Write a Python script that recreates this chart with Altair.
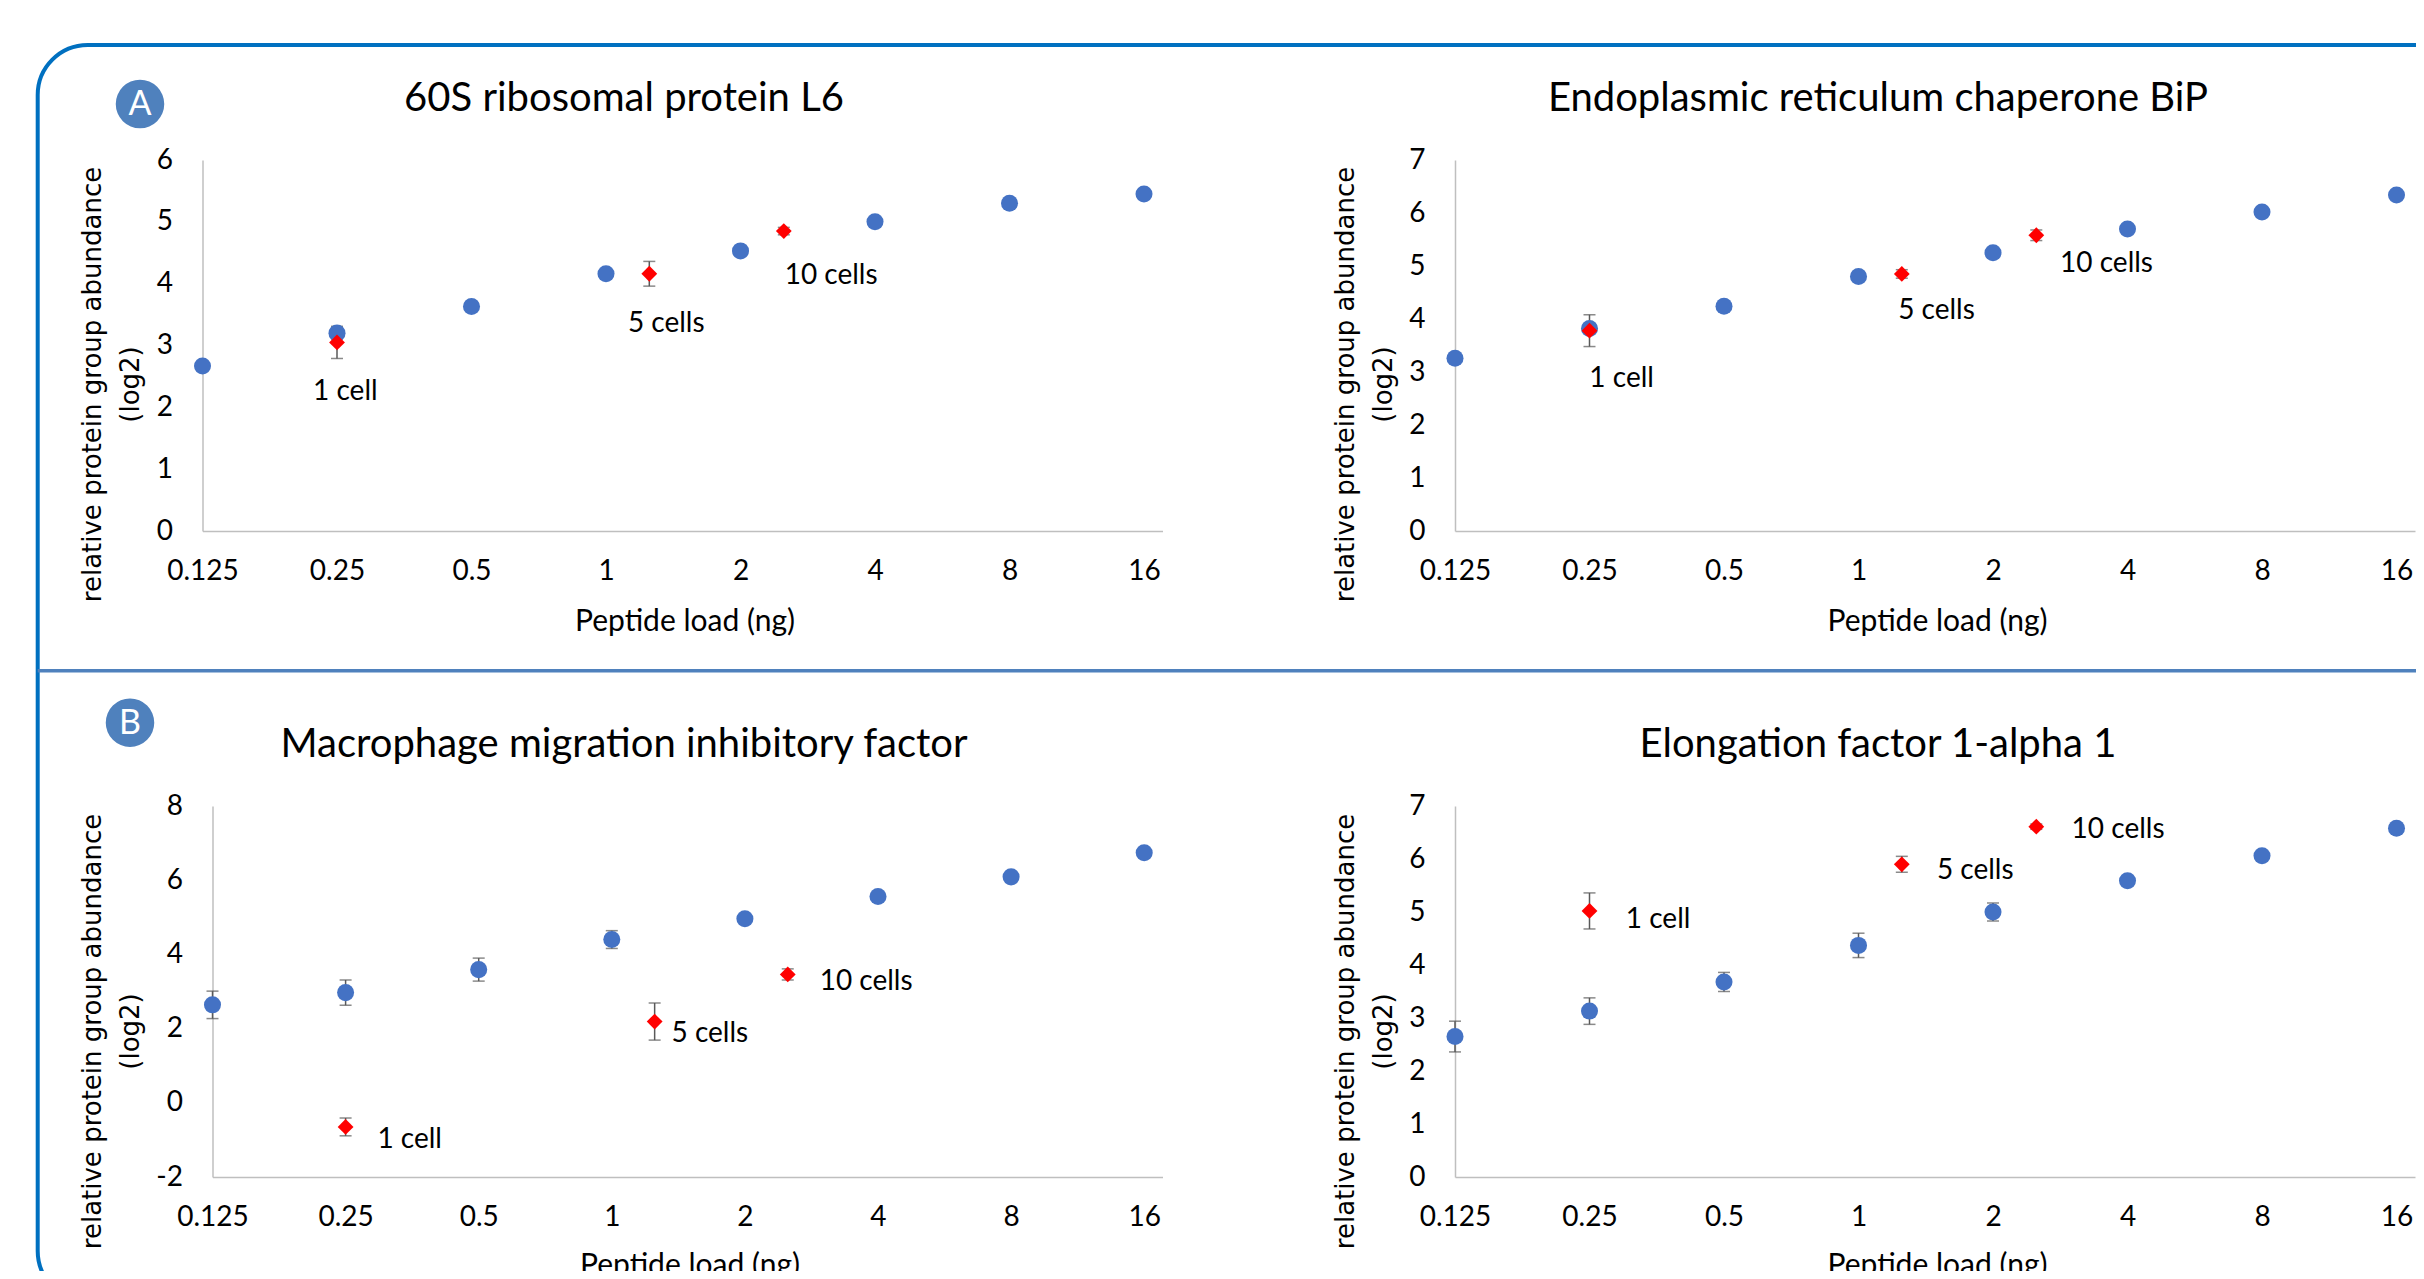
import altair as alt
import pandas as pd

# ---------------- data ----------------
loads = [0.125, 0.25, 0.5, 1, 2, 4, 8, 16]
cell_loads = [0.25, 1.25, 2.5]
cell_labels = ["1 cell", "5 cells", "10 cells"]
x_title = "Peptide load (ng)"
y_title = ["relative protein group abundance", "(log2)"]

a_title = "60S ribosomal protein L6"
a_blue = [2.67, 3.20, 3.63, 4.16, 4.53, 5.00, 5.30, 5.45]
a_blue_err = [0.06, 0.09, 0.04, 0.05, 0.04, 0.03, 0.03, 0.03]
a_red = [3.05, 4.16, 4.85]
a_red_err = [0.26, 0.20, 0.06]
a_lab_x = [0.261, 1.364, 3.19]
a_lab_y = [2.25, 3.35, 4.12]

b_title = "Endoplasmic reticulum chaperone BiP"
b_blue = [3.26, 3.82, 4.24, 4.80, 5.25, 5.70, 6.02, 6.34]
b_blue_err = [0.05, 0.05, 0.05, 0.06, 0.05, 0.04, 0.04, 0.04]
b_red = [3.78, 4.85, 5.58]
b_red_err = [0.30, 0.08, 0.10]
b_lab_x = [0.295, 1.495, 3.59]
b_lab_y = [2.86, 4.15, 5.03]

c_title = "Macrophage migration inhibitory factor"
c_blue = [2.64, 2.97, 3.59, 4.40, 4.96, 5.56, 6.09, 6.74]
c_blue_err = [0.37, 0.34, 0.31, 0.24, 0.10, 0.06, 0.05, 0.05]
c_red = [-0.65, 2.19, 3.46]
c_red_err = [0.24, 0.50, 0.15]
c_lab_x = [0.349, 1.666, 3.76]
c_lab_y = [-1.01, 1.86, 3.26]

d_title = "Elongation factor 1-alpha 1"
d_blue = [2.65, 3.13, 3.68, 4.37, 5.00, 5.59, 6.06, 6.58]
d_blue_err = [0.29, 0.25, 0.18, 0.23, 0.17, 0.05, 0.05, 0.04]
d_red = [5.02, 5.90, 6.61]
d_red_err = [0.34, 0.15, 0.05]
d_lab_x = [0.356, 1.825, 3.81]
d_lab_y = [4.85, 5.77, 6.55]

# ---------------- style ----------------
BLUE = "#4472C4"
RED = "#FF0000"
ERR = "#595959"
AXIS = "#BFBFBF"
FRAME = "#0070C0"
BADGE = "#4F81BD"
FONT = "Lato"
W, H = 960, 371


def one():
    return pd.DataFrame({"k": [0]})


def panel(title, tx, blue, blue_err, red, red_err, lab_x, lab_y, ydom, yticks,
          xoff, ytx, yty, xty, deco):
    xs = alt.Scale(type="log", base=2, domain=[0.125, 17.6], range=[xoff, W])
    ys = alt.Scale(domain=ydom, nice=False, zero=False)
    xax = alt.Axis(values=loads, format="~g", grid=False, ticks=False, tickSize=0,
                   domainColor=AXIS, domainWidth=1.5, labelFont=FONT, labelFontSize=28,
                   labelColor="black", labelPadding=26, labelFlush=False,
                   labelOverlap=False, title=x_title, titleFont=FONT, titleFontSize=30,
                   titleFontWeight="normal", titleColor="black",
                   titleX=(xoff + W) / 2 + 2, titleY=xty, titleAlign="center",
                   titleBaseline="alphabetic")
    yax = alt.Axis(values=yticks, grid=False, ticks=False, tickSize=0,
                   labelExpr="'' + datum.value",
                   domainColor=AXIS, domainWidth=1.5, labelFont=FONT, labelFontSize=28,
                   labelColor="black", labelPadding=30, offset=-xoff,
                   title=y_title, titleFont="DejaVu Sans", titleFontSize=26,
                   titleFontWeight="normal", titleColor="black", titleX=ytx,
                   titleY=yty, titleAngle=270, titleAlign="center",
                   titleBaseline="middle", titleLineHeight=38)

    def X(f):
        return alt.X(f, type="quantitative", scale=xs, axis=xax)

    def Y(f):
        return alt.Y(f, type="quantitative", scale=ys, axis=yax)

    bdf = pd.DataFrame({"load": loads, "val": blue, "err": blue_err})
    bdf["lo"] = bdf["val"] - bdf["err"]
    bdf["hi"] = bdf["val"] + bdf["err"]
    rdf = pd.DataFrame({"load": cell_loads, "val": red, "err": red_err})
    rdf["lo"] = rdf["val"] - rdf["err"]
    rdf["hi"] = rdf["val"] + rdf["err"]
    ldf = pd.DataFrame({"lx": lab_x, "ly": lab_y, "txt": cell_labels})

    layers = []
    for df in (bdf, rdf):
        layers.append(alt.Chart(df).mark_rule(color=ERR, strokeWidth=1.5)
                      .encode(x=X("load"), y=Y("lo"), y2="hi"))
        layers.append(alt.Chart(df).transform_fold(["lo", "hi"], as_=["end", "yv"])
                      .mark_tick(orient="horizontal", size=12, thickness=1.5, color=ERR)
                      .encode(x=X("load"), y=Y("yv")))
    layers.append(alt.Chart(bdf).mark_point(shape="circle", filled=True, size=290,
                                            color=BLUE, opacity=1)
                  .encode(x=X("load"), y=Y("val")))
    layers.append(alt.Chart(rdf).mark_point(shape="diamond", filled=True, size=250,
                                            color=RED, opacity=1)
                  .encode(x=X("load"), y=Y("val")))
    layers.append(alt.Chart(ldf).mark_text(font=FONT, fontSize=28, color="black",
                                           align="center", baseline="middle")
                  .encode(x=X("lx"), y=Y("ly"), text="txt:N"))
    # panel title
    layers.append(alt.Chart(one()).mark_text(font=FONT, fontSize=40, color="black",
                                             align="center", baseline="middle")
                  .encode(x=alt.value(tx), y=alt.value(-61), text=alt.value(title)))
    layers.extend(deco)
    return alt.layer(*layers).properties(width=W, height=H)


def badge(letter, x, y):
    return [
        alt.Chart(one()).mark_point(shape="circle", filled=True, size=48.5 ** 2,
                                    color=BADGE, opacity=1)
        .encode(x=alt.value(x), y=alt.value(y)),
        alt.Chart(one()).mark_text(font=FONT, fontSize=34, color="white",
                                   align="center", baseline="middle")
        .encode(x=alt.value(x), y=alt.value(y + 1), text=alt.value(letter)),
    ]


frame = [
    alt.Chart(one()).mark_rect(fillOpacity=0, stroke=FRAME, strokeWidth=4, cornerRadius=50)
    .encode(x=alt.value(-164.8), x2=alt.value(2262.5), y=alt.value(-115), y2=alt.value(1141)),
    alt.Chart(one()).mark_rule(color=BADGE, strokeWidth=3.5)
    .encode(x=alt.value(-164.8), x2=alt.value(2300), y=alt.value(510.7)),
]

pA = panel(a_title, 421.5, a_blue, a_blue_err, a_red, a_red_err, a_lab_x, a_lab_y,
           [0, 6], [0, 1, 2, 3, 4, 5, 6], 0, -109.8, 224, 99,
           frame + badge("A", -62.5, -56))
pB = panel(b_title, 423, b_blue, b_blue_err, b_red, b_red_err, b_lab_x, b_lab_y,
           [0, 7], [0, 1, 2, 3, 4, 5, 6, 7], 0, -110, 224, 99, [])
pC = panel(c_title, 421.5, c_blue, c_blue_err, c_red, c_red_err, c_lab_x, c_lab_y,
           [-2, 8], [-2, 0, 2, 4, 6, 8], 10, -119.8, 225, 97,
           badge("B", -72.5, -83.3))
pD = panel(d_title, 423, d_blue, d_blue_err, d_red, d_red_err, d_lab_x, d_lab_y,
           [0, 7], [0, 1, 2, 3, 4, 5, 6, 7], 0, -110, 225, 97, [])

chart = alt.concat(pA, pB, pC, pD, columns=2,
                   spacing={"row": 275, "column": 292.5}, bounds="flush").properties(
    autosize=alt.AutoSizeParams(type="none"),
    padding={"left": 194.5, "top": 152, "right": 2213.5, "bottom": 1111},
    background="white",
).configure_view(stroke=None)

chart.save("out.html", embed_options={"renderer": "svg", "actions": False})
